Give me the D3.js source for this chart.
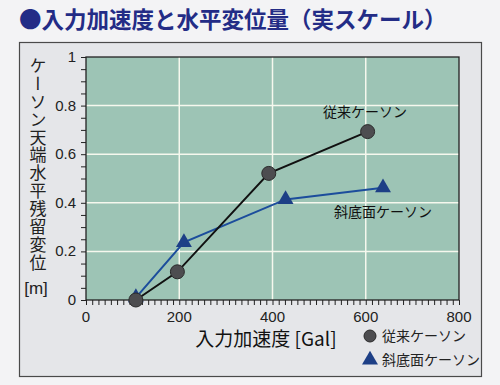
<!DOCTYPE html>
<html>
<head>
<meta charset="utf-8">
<script src="https://d3js.org/d3.v7.min.js"></script>
<style>
  body { margin: 0; background: #f3f3f5; }
  text { font-family: "Noto Sans CJK JP", sans-serif; }
  .num { font-family: "Liberation Sans", Arial, sans-serif; }
</style>
</head>
<body>
<svg id="chart" width="500" height="385"></svg>
<script>
// data
const convAccel = [107, 196, 392, 604];
const convDisp = [0.0, 0.116, 0.521, 0.693];
const slopeAccel = [107, 210, 428, 637];
const slopeDisp = [0.01, 0.237, 0.414, 0.462];
const xTicks = [0, 200, 400, 600, 800];
const yTicks = [0, 0.2, 0.4, 0.6, 0.8, 1];
const yTickLabels = ['0', '0.2', '0.4', '0.6', '0.8', '1'];
const convName = '従来ケーソン';
const slopeName = '斜底面ケーソン';
const yTitle = 'ケーソン天端水平残留変位';

const svg = d3.select('#chart');

// outer panel
svg.append('rect')
    .attr('x', 19.5).attr('y', 42.5)
    .attr('width', 462).attr('height', 334)
    .attr('fill', '#e5e6e9')
    .attr('stroke', '#4a4a4a')
    .attr('stroke-width', 1.2);

// title
svg.append('text')
    .attr('x', 19).attr('y', 28)
    .attr('font-size', 22.5)
    .attr('font-weight', 'bold')
    .attr('fill', '#232c86')
    .text('●入力加速度と水平変位量（実スケール）');

const x = d3.scaleLinear().domain([0, 800]).range([86, 459]);
const y = d3.scaleLinear().domain([0, 1]).range([300, 57]);

// plot background
svg.append('rect')
    .attr('x', x(0)).attr('y', y(1))
    .attr('width', x(800) - x(0)).attr('height', y(0) - y(1))
    .attr('fill', '#9dc4b5');

// grid
svg.selectAll('.vgrid')
    .data(xTicks.slice(1, -1))
    .enter().append('line')
    .attr('x1', d => x(d)).attr('x2', d => x(d))
    .attr('y1', y(1)).attr('y2', y(0))
    .attr('stroke', '#f6f8ee').attr('stroke-width', 1.5);

svg.selectAll('.hgrid')
    .data(yTicks.slice(1, -1))
    .enter().append('line')
    .attr('x1', x(0)).attr('x2', x(800))
    .attr('y1', d => y(d)).attr('y2', d => y(d))
    .attr('stroke', '#f6f8ee').attr('stroke-width', 1.5);

// plot frame
svg.append('rect')
    .attr('x', x(0)).attr('y', y(1))
    .attr('width', x(800) - x(0)).attr('height', y(0) - y(1))
    .attr('fill', 'none')
    .attr('stroke', '#222').attr('stroke-width', 1.3);

// axes with minor ticks
const xAxis = d3.axisBottom(x)
    .tickValues(d3.range(0, 800.01, 200 / 15))
    .tickSize(5).tickFormat('');
svg.append('g').attr('transform', `translate(0,${y(0)})`).call(xAxis)
    .call(g => g.select('.domain').remove())
    .selectAll('line').attr('stroke', '#222');

const yAxis = d3.axisLeft(y)
    .tickValues(d3.range(0, 1.001, 0.05))
    .tickSize(5).tickFormat('');
svg.append('g').attr('transform', `translate(${x(0)},0)`).call(yAxis)
    .call(g => g.select('.domain').remove())
    .selectAll('line').attr('stroke', '#222');

// tick labels
svg.selectAll('.xlab')
    .data(xTicks)
    .enter().append('text')
    .attr('class', 'num')
    .attr('x', d => x(d)).attr('y', 322)
    .attr('text-anchor', 'middle')
    .attr('font-size', 15)
    .attr('fill', '#222')
    .text(d => d);

svg.selectAll('.ylab')
    .data(yTicks)
    .enter().append('text')
    .attr('class', 'num')
    .attr('x', 76).attr('y', d => y(d) + 5)
    .attr('text-anchor', 'end')
    .attr('font-size', 15)
    .attr('fill', '#222')
    .text((d, i) => yTickLabels[i]);

// y title, vertical writing
svg.append('text')
    .attr('x', 38).attr('y', 57)
    .style('writing-mode', 'vertical-rl')
    .style('letter-spacing', '0.9px')
    .attr('font-size', 17)
    .attr('fill', '#222')
    .text(yTitle);

svg.append('text')
    .attr('class', 'num')
    .attr('x', 36).attr('y', 294)
    .attr('text-anchor', 'middle')
    .attr('font-size', 17)
    .attr('fill', '#222')
    .text('[m]');

// x title
svg.append('text')
    .attr('x', 266).attr('y', 346)
    .attr('text-anchor', 'middle')
    .attr('font-size', 19)
    .attr('fill', '#111')
    .text('入力加速度 [Gal]');

// series lines
const line = d3.line().x(d => x(d[0])).y(d => y(d[1]));
const convPts = convAccel.map((a, i) => [a, convDisp[i]]);
const slopePts = slopeAccel.map((a, i) => [a, slopeDisp[i]]);

svg.append('path').datum(slopePts)
    .attr('d', line)
    .attr('fill', 'none')
    .attr('stroke', '#1c4d9c').attr('stroke-width', 2);

svg.append('path').datum(convPts)
    .attr('d', line)
    .attr('fill', 'none')
    .attr('stroke', '#111').attr('stroke-width', 2);

const tri = d3.symbol().type(d3.symbolTriangle).size(110);

svg.selectAll('.tri')
    .data(slopePts)
    .enter().append('path')
    .attr('d', tri)
    .attr('transform', d => `translate(${x(d[0])},${y(d[1])})`)
    .attr('fill', '#1d3f86');

svg.selectAll('.dot')
    .data(convPts)
    .enter().append('circle')
    .attr('cx', d => x(d[0])).attr('cy', d => y(d[1]))
    .attr('r', 7)
    .attr('fill', '#4d4d50')
    .attr('stroke', '#2a2a2a').attr('stroke-width', 1);

// in-plot labels
svg.append('text')
    .attr('x', 323).attr('y', 117)
    .attr('font-size', 14)
    .attr('fill', '#111')
    .text(convName);

svg.append('text')
    .attr('x', 334).attr('y', 217)
    .attr('font-size', 14)
    .attr('fill', '#111')
    .text(slopeName);

// legend
svg.append('circle')
    .attr('cx', 370).attr('cy', 336).attr('r', 6)
    .attr('fill', '#4d4d50')
    .attr('stroke', '#2a2a2a').attr('stroke-width', 1);
svg.append('text')
    .attr('x', 382).attr('y', 341)
    .attr('font-size', 14)
    .attr('fill', '#222')
    .text(convName);

svg.append('path')
    .attr('d', tri)
    .attr('transform', 'translate(370,360)')
    .attr('fill', '#1d3f86');
svg.append('text')
    .attr('x', 382).attr('y', 365)
    .attr('font-size', 14)
    .attr('fill', '#222')
    .text(slopeName);
</script>
</body>
</html>
